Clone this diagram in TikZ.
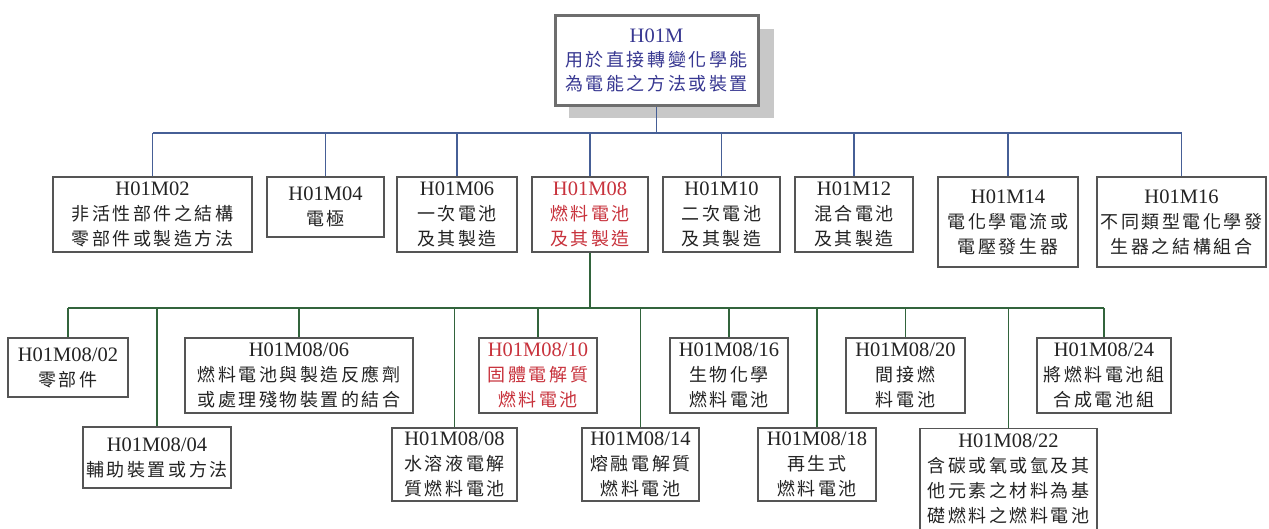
\documentclass[tikz,border=0pt]{standalone}
\usepackage{fontspec}
\setmainfont{Liberation Serif}
\newfontfamily\cjkfont[LetterSpace=14]{Noto Sans CJK TC}
\newcommand\cj[1]{{\cjkfont\fontsize{18}{25}\selectfont #1}}
\definecolor{bluelink}{RGB}{70,95,150}
\definecolor{greenlink}{RGB}{50,100,60}
\definecolor{boxline}{RGB}{85,85,85}
\definecolor{boxtext}{RGB}{35,35,35}
\definecolor{redtext}{RGB}{200,50,60}
\definecolor{toptext}{RGB}{55,55,145}
\definecolor{shadowgray}{RGB}{200,200,200}
\definecolor{topline}{RGB}{110,110,110}
\tikzset{
  box/.style={draw=boxline, line width=1.4pt, fill=white, rectangle, inner sep=0pt,
    align=center, text=boxtext, font=\fontsize{20.5}{25}\selectfont},
  redbox/.style={box, text=redtext},
  topbox/.style={draw=topline, line width=3pt, fill=white, rectangle, inner sep=0pt,
    align=center, text=toptext, font=\fontsize{20.5}{24}\selectfont},
  bluewire/.style={draw=bluelink, line width=1.4pt},
  greenwire/.style={draw=greenlink, line width=1.4pt}
}
\begin{document}
\begin{tikzpicture}[x=1pt,y=-1pt]
\useasboundingbox (0,0) rectangle (1269,528);
% shadow of the top box
\fill[shadowgray] (569,29) rectangle (774,118);
\node[topbox, minimum width=203pt, minimum height=90pt] (top) at (656.5,60)
  {H01M\\\cj{用於直接轉變化學能}\\\cj{為電能之方法或裝置}};
% first level
\node[box, minimum width=199pt, minimum height=75pt] (r02) at (152.5,214.5) {H01M02\\\cj{非活性部件之結構}\\\cj{零部件或製造方法}};
\node[box, minimum width=117pt, minimum height=60pt] (r04) at (325.5,207) {H01M04\\\cj{電極}};
\node[box, minimum width=120pt, minimum height=75pt] (r06) at (457,214.5) {H01M06\\\cj{一次電池}\\\cj{及其製造}};
\node[redbox, minimum width=116pt, minimum height=75pt] (r08) at (590,214.5) {H01M08\\\cj{燃料電池}\\\cj{及其製造}};
\node[box, minimum width=117pt, minimum height=75pt] (r10) at (721.5,214.5) {H01M10\\\cj{二次電池}\\\cj{及其製造}};
\node[box, minimum width=118pt, minimum height=75pt] (r12) at (854,214.5) {H01M12\\\cj{混合電池}\\\cj{及其製造}};
\node[box, minimum width=140pt, minimum height=90pt] (r14) at (1008,222) {H01M14\\\cj{電化學電流或}\\\cj{電壓發生器}};
\node[box, minimum width=169pt, minimum height=90pt] (r16) at (1181.5,222) {H01M16\\\cj{不同類型電化學發}\\\cj{生器之結構組合}};
% second level, upper row
\node[box, minimum width=120pt, minimum height=59pt] (s02) at (68,367.5) {H01M08/02\\\cj{零部件}};
\node[box, minimum width=228pt, minimum height=75pt] (s06) at (299,375.5) {H01M08/06\\\cj{燃料電池與製造反應劑}\\\cj{或處理殘物裝置的結合}};
\node[redbox, minimum width=118pt, minimum height=75pt] (s10) at (538,375.5) {H01M08/10\\\cj{固體電解質}\\\cj{燃料電池}};
\node[box, minimum width=118pt, minimum height=75pt] (s16) at (729,375.5) {H01M08/16\\\cj{生物化學}\\\cj{燃料電池}};
\node[box, minimum width=119pt, minimum height=75pt] (s20) at (905.5,375.5) {H01M08/20\\\cj{間接燃}\\\cj{料電池}};
\node[box, minimum width=134pt, minimum height=75pt] (s24) at (1104,375.5) {H01M08/24\\\cj{將燃料電池組}\\\cj{合成電池組}};
% second level, lower row
\node[box, minimum width=148pt, minimum height=61pt] (s04) at (157,457.5) {H01M08/04\\\cj{輔助裝置或方法}};
\node[box, minimum width=125pt, minimum height=73pt] (s08) at (454.5,464.5) {H01M08/08\\\cj{水溶液電解}\\\cj{質燃料電池}};
\node[box, minimum width=117pt, minimum height=73pt] (s14) at (640.5,464.5) {H01M08/14\\\cj{熔融電解質}\\\cj{燃料電池}};
\node[box, minimum width=118pt, minimum height=73pt] (s18) at (817,464.5) {H01M08/18\\\cj{再生式}\\\cj{燃料電池}};
\node[box, minimum width=177pt, minimum height=112pt, anchor=north] (s22) at (1008.5,428) {};
\node[box, draw=none, fill=none, anchor=north] (s22t) at (1008.5,433) {H01M08/22\\\cj{含碳或氧或氫及其}\\\cj{他元素之材料為基}\\\cj{礎燃料之燃料電池}};
% buses
\coordinate (b1) at (656.5,133);
\coordinate (b2) at (590,308);
% first level connectors
\draw[bluewire] (top.south) -- (top.south |- b1);
\draw[bluewire] (r02.north |- b1) -- (r16.north |- b1);
\foreach \n in {r02,r04,r06,r08,r10,r12,r14,r16}
  \draw[bluewire] (\n.north) -- (\n.north |- b1);
% second level connectors
\draw[greenwire] (r08.south) -- (r08.south |- b2);
\draw[greenwire] (s02.north |- b2) -- (s24.north |- b2);
\foreach \n in {s02,s04,s06,s08,s10,s14,s16,s18,s20,s22,s24}
  \draw[greenwire] (\n.north) -- (\n.north |- b2);
\end{tikzpicture}
\end{document}
